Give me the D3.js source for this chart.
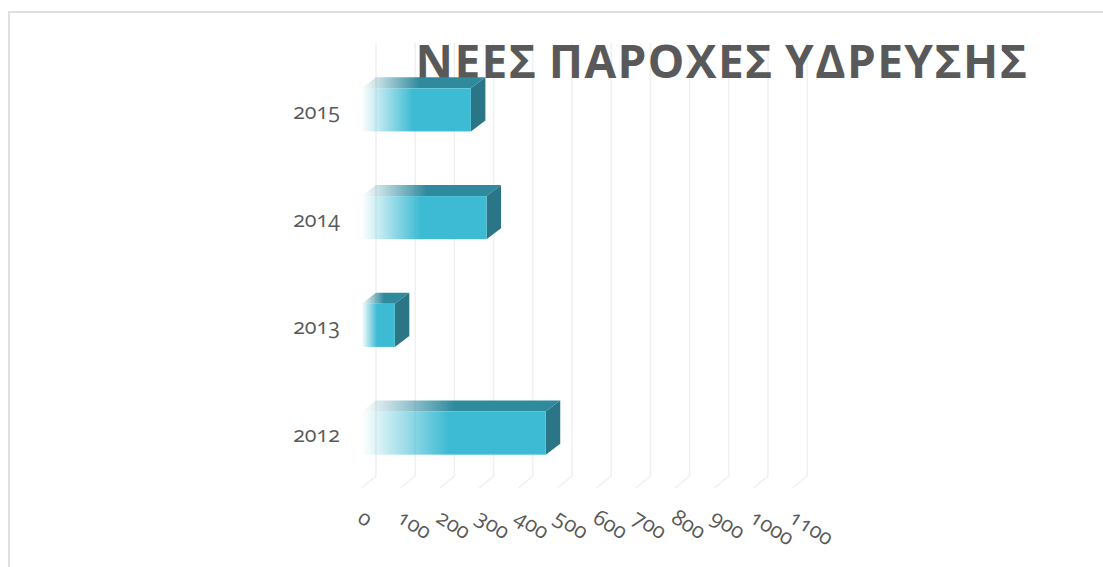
<!DOCTYPE html>
<html>
<head>
<meta charset="utf-8">
<script src="https://cdn.jsdelivr.net/npm/d3@7"></script>
<style>
  html, body { margin: 0; padding: 0; background: #fff; overflow: hidden; }
  text { font-family: "Open Sans", sans-serif; fill: #595959; }
  .tick text { font-variant-numeric: oldstyle-nums; font-feature-settings: "onum"; font-size: 21.5px; }
</style>
</head>
<body>
<svg id="chart" width="1103" height="567"></svg>
<script>
var years = ["2015", "2014", "2013", "2012"];
var newConnections = [279, 319, 85, 470];
var xTicks = [0, 100, 200, 300, 400, 500, 600, 700, 800, 900, 1000, 1100];
var chartTitle = "ΝΕΕΣ ΠΑΡΟΧΕΣ ΥΔΡΕΥΣΗΣ";

function drawChart() {
  var svg = d3.select("#chart");
  var depthX = 14.5, depthY = 11;

  var xScale = d3.scaleLinear().domain([0, 1100]).range([361.5, 792.7]);
  var yScale = d3.scaleBand().domain(years).range([56, 487]).paddingInner(0.6).paddingOuter(0.3);
  var floorY = 488;

  // chart frame, only top and left show in the crop
  svg.append("rect")
    .attr("x", 9).attr("y", 12)
    .attr("width", 1200).attr("height", 700)
    .attr("fill", "none")
    .attr("stroke", "#e0e0e0")
    .attr("stroke-width", 2);

  // fading gradients for front and top faces
  var defs = svg.append("defs");
  function fade(id, color) {
    var g = defs.append("linearGradient").attr("id", id);
    g.append("stop").attr("offset", "0%").attr("stop-color", color).attr("stop-opacity", 0);
    g.append("stop").attr("offset", "47%").attr("stop-color", color).attr("stop-opacity", 1);
  }
  fade("frontFade", "#3ebbd4");
  fade("topFade", "#2f8a9e");

  // gridlines, back wall plus the floor slant
  var grid = svg.append("g");
  grid.selectAll("path")
    .data(xTicks)
    .enter()
    .append("path")
    .attr("d", function(d) {
      var x = xScale(d);
      return "M" + x + "," + floorY + "L" + (x + depthX) + "," + (floorY - depthY - 1) + "V43";
    })
    .attr("fill", "none")
    .attr("stroke", "#f0f0f0")
    .attr("stroke-width", 1.5);

  svg.append("text")
    .attr("x", 722)
    .attr("y", 78)
    .attr("text-anchor", "middle")
    .style("font-size", "46px")
    .style("font-weight", 700)
    .style("letter-spacing", "1.4px")
    .style("word-spacing", "-2px")
    .text(chartTitle);

  var bars = svg.selectAll(".bar")
    .data(years)
    .enter()
    .append("g")
    .attr("class", "bar");

  // top face
  bars.append("path")
    .attr("d", function(d, i) {
      var x0 = xScale(0), x1 = xScale(newConnections[i]), y = yScale(d);
      return "M" + x0 + "," + y + "L" + (x0 + depthX) + "," + (y - depthY) + "H" + (x1 + depthX) + "L" + x1 + "," + y + "Z";
    })
    .attr("fill", "url(#topFade)");

  // side face
  bars.append("path")
    .attr("d", function(d, i) {
      var x1 = xScale(newConnections[i]), y = yScale(d), h = yScale.bandwidth();
      return "M" + x1 + "," + y + "L" + (x1 + depthX) + "," + (y - depthY) + "V" + (y + h - depthY) + "L" + x1 + "," + (y + h) + "Z";
    })
    .attr("fill", "#2a7586");

  // front face
  bars.append("rect")
    .attr("x", xScale(0))
    .attr("y", function(d) { return yScale(d); })
    .attr("width", function(d, i) { return xScale(newConnections[i]) - xScale(0); })
    .attr("height", yScale.bandwidth())
    .attr("fill", "url(#frontFade)");

  // year labels
  var yAxis = d3.axisLeft(yScale).tickSize(0).tickPadding(0);
  svg.append("g")
    .attr("transform", "translate(340,0)")
    .call(yAxis)
    .call(function(g) { g.select(".domain").remove(); })
    .selectAll("text")
    .attr("y", 2)
    .style("fill", "#595959")
    .style("font-family", "'Open Sans', sans-serif");

  // value labels, slanted
  var xAxis = d3.axisBottom(xScale).tickValues(xTicks).tickSize(0).tickFormat(d3.format("d"));
  svg.append("g")
    .attr("transform", "translate(0,516)")
    .call(xAxis)
    .call(function(g) { g.select(".domain").remove(); })
    .selectAll("text")
    .attr("text-anchor", "start")
    .attr("x", -2)
    .attr("y", 0)
    .attr("dy", "0.35em")
    .attr("transform", "rotate(32)")
    .style("fill", "#595959")
    .style("font-family", "'Open Sans', sans-serif");
}

drawChart();
</script>
</body>
</html>
